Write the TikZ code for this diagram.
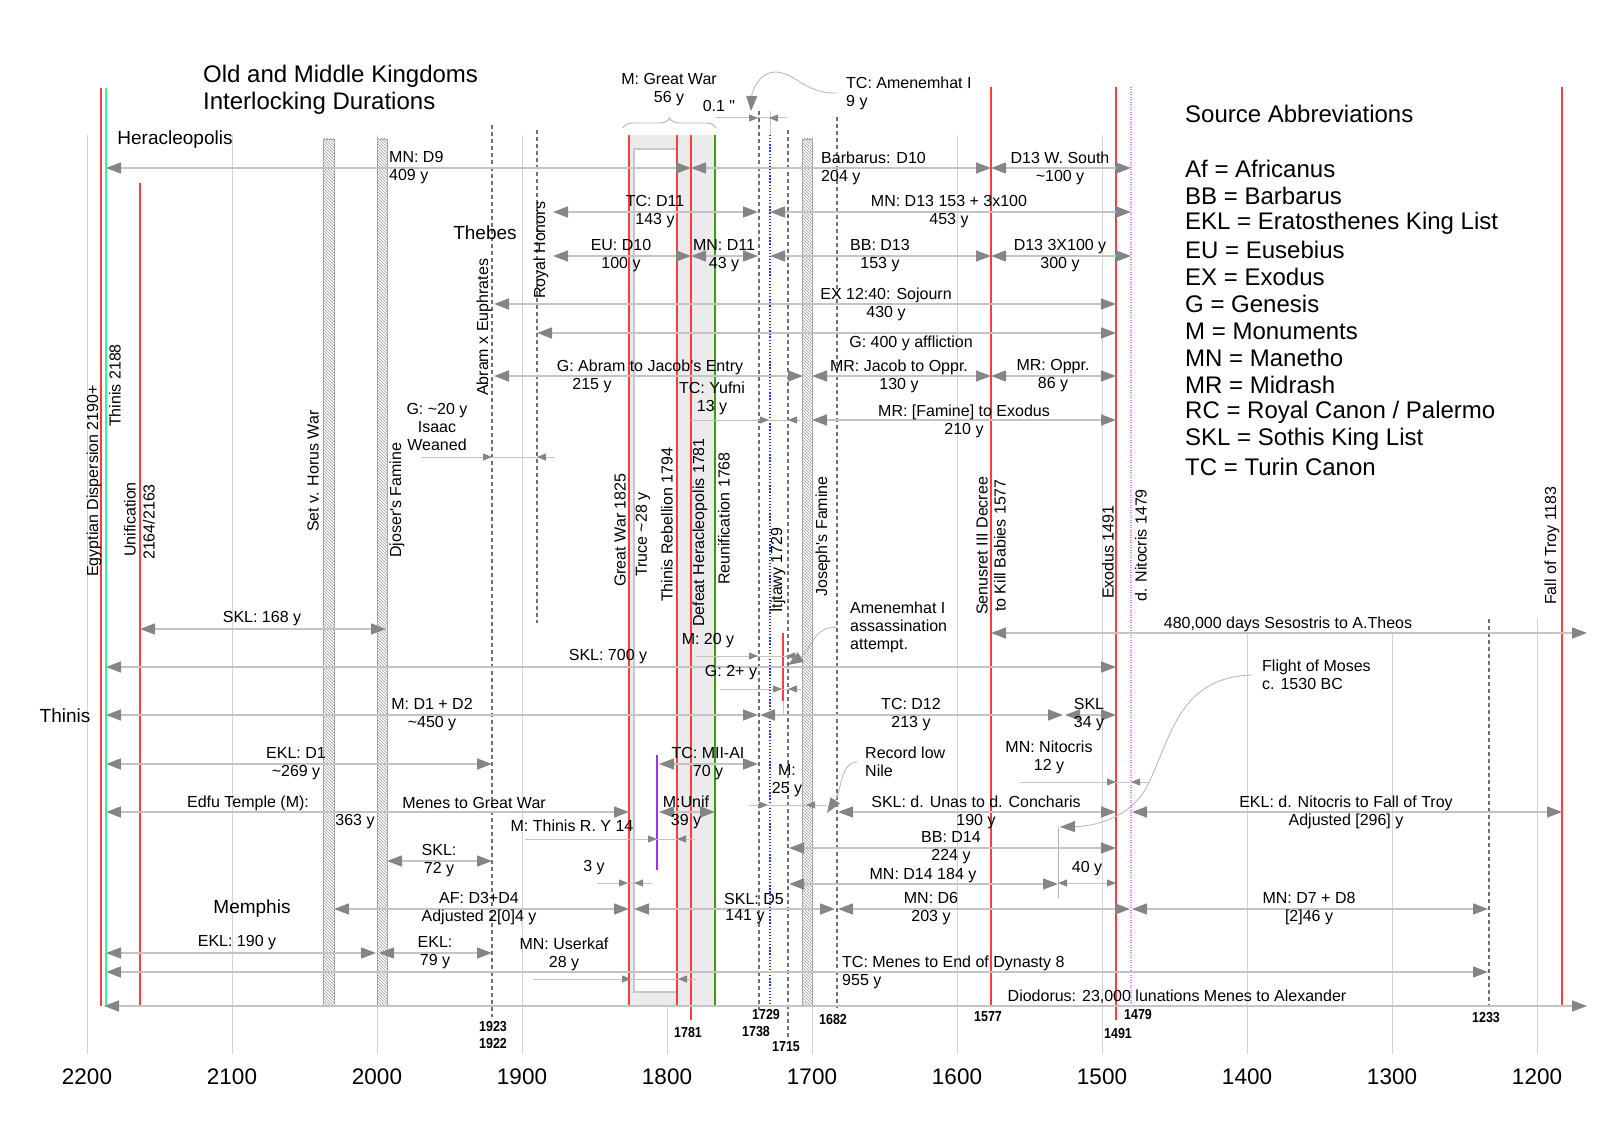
\documentclass[tikz,border=0pt]{standalone}
\usepackage{fontspec}
\setmainfont{Liberation Sans}
\newfontfamily\lsans{Liberation Sans}
\newfontfamily\lsnarrow{Liberation Sans}[FakeStretch=0.86]
\usetikzlibrary{arrows.meta,patterns,decorations.pathreplacing}
\definecolor{redl}{HTML}{FF3B3B}
\definecolor{mint}{HTML}{33F59A}
\definecolor{dgreen}{HTML}{3A9A10}
\definecolor{gridc}{HTML}{D2D2D2}
\definecolor{linec}{HTML}{C4C4C4}
\definecolor{headc}{HTML}{858585}
\definecolor{dashc}{HTML}{707070}
\definecolor{boxc}{HTML}{EBEBEB}
\definecolor{purp}{HTML}{9933FF}
\definecolor{magd}{HTML}{FF77FF}
\definecolor{bluedot}{HTML}{2233FF}
\newcommand{\sdim}[5]{%
  \draw[thinl] (#2,#1) -- (#3,#1);
  \draw[shead] ({#4-9},#1) -- (#4,#1);
  \draw[shead] ({#5+9},#1) -- (#5,#1);}
\tikzset{
  gridl/.style={draw=gridc, line width=1pt},
  redv/.style={draw=redl, line width=2pt},
  mintv/.style={draw=mint, line width=2pt},
  dgreenv/.style={draw=dgreen, line width=1.6pt},
  bluedotv/.style={draw=bluedot, line width=1.3pt, dash pattern=on 1.3pt off 1.8pt},
  magv/.style={draw=magd, line width=1.2pt, dash pattern=on 1pt off 1.5pt},
  purplev/.style={draw=purp, line width=2pt},
  dashv/.style={draw=dashc, line width=1.3pt, dash pattern=on 4pt off 3pt},
  hatch/.style={preaction={fill=white}, pattern=north west lines, pattern color=gray!80, draw=gray!70, line width=0.8pt},
  dur/.style={draw=linec, line width=1.6pt, {Triangle[length=15pt,width=11pt,color=headc]}-{Triangle[length=15pt,width=11pt,color=headc]}},
  thinl/.style={draw=linec, line width=1pt},
  shead/.style={draw=linec, line width=1pt, -{Triangle[length=9pt,width=7pt,color=headc]}},
  sdouble/.style={draw=linec, line width=1pt, {Triangle[length=9pt,width=7pt,color=headc]}-{Triangle[length=9pt,width=7pt,color=headc]}},
  conn/.style={draw=gray!55, line width=0.9pt, -{Triangle[length=15pt,width=11pt,color=headc]}},
  lbl/.style={font=\lsans\fontsize{16}{18}\selectfont, inner sep=0pt, align=center},
  lbll/.style={lbl, align=left, anchor=west},
  rot/.style={font=\lsans\fontsize{16}{18}\selectfont, inner sep=0pt, rotate=90, anchor=west},
  bigt/.style={font=\lsans\fontsize{24}{28}\selectfont, inner sep=0pt, anchor=west},
  city/.style={font=\lsans\fontsize{19}{22}\selectfont, inner sep=0pt},
  yearl/.style={font=\lsans\fontsize{22.5}{26}\selectfont, inner sep=0pt},
  datel/.style={font=\lsnarrow\bfseries\fontsize{14.5}{16}\selectfont, inner sep=0pt},
}
\begin{document}
\begin{tikzpicture}[x=1pt,y=-1pt]
\useasboundingbox (0,0) rectangle (1600,1131);
% grid
\foreach \gx in {87,232,377,522,667,812,957,1102} \draw[gridl] (\gx,135) -- (\gx,1054);
\draw[gridl] (1247,633) -- (1247,1054);
\draw[gridl] (1392,633) -- (1392,1054);
\draw[gridl] (1537,618) -- (1537,1054);
% gray box
\fill[boxc] (629,135) rectangle (715,1006);
\filldraw[fill=white, draw=gray!45, line width=1.2pt] (634,149) rectangle (677,992);
% hatched bars
\filldraw[hatch] (323,139) rectangle (334,1006);
\filldraw[hatch] (377,139) rectangle (387,1006);
\filldraw[hatch] (802,139) rectangle (812,1006);
% vertical lines
\draw[redv] (101,88) -- (101,1006);
\draw[mintv] (106,88) -- (106,1006);
\draw[redv] (140,183) -- (140,1006);
\draw[dashv] (492,125) -- (492,1017);
\draw[dashv] (537,130) -- (537,623);
\draw[redv] (629,135) -- (629,1006);
\draw[redv] (677,135) -- (677,1006);
\draw[redv] (691,135) -- (691,1020);
\draw[dgreenv] (715,135) -- (715,1006);
\draw[dashv] (759,111) -- (759,1010);
\draw[thinl] (770,111) -- (770,135);
\draw[bluedotv] (770,135) -- (770,1006);
\draw[dashv] (788,130) -- (788,1038);
\draw[redv] (783,633) -- (783,701);
\draw[thinl] (783,701) -- (783,715);
\draw[dashv] (837,117) -- (837,1008);
\draw[redv] (991,87) -- (991,1006);
\draw[redv] (1116,87) -- (1116,1020);
\draw[magv] (1131,87) -- (1131,1006);
\draw[dashv] (1489,619) -- (1489,1007);
\draw[redv] (1562,87) -- (1562,1006);
\draw[purplev] (657,755) -- (657,870);
\draw[draw=gray!60, line width=1pt] (1058,827) -- (1058,898);
% duration arrows
\draw[dur] (106,168) -- (691,168);
\draw[dur] (691,168) -- (991,168);
\draw[dur] (991,168) -- (1131,168);
\draw[dur] (553,212) -- (758,212);
\draw[dur] (770,212) -- (1131,212);
\draw[dur] (553,256) -- (691,256);
\draw[dur] (691,256) -- (758,256);
\draw[dur] (770,256) -- (991,256);
\draw[dur] (991,256) -- (1131,256);
\draw[dur] (494,304) -- (1116,304);
\draw[dur] (537,333) -- (1116,333);
\draw[dur] (494,376) -- (803,376);
\draw[dur] (812,376) -- (991,376);
\draw[dur] (991,376) -- (1116,376);
\draw[dur] (812,420) -- (1116,420);
\draw[dur] (140,629) -- (386,629);
\draw[dur] (991,633) -- (1587,633);
\draw[dur] (106,667) -- (1116,667);
\draw[dur] (106,715) -- (758,715);
\draw[dur] (760,715) -- (1063,715);
\draw[dur] (1065,715) -- (1116,715);
\draw[dur] (106,764) -- (492,764);
\draw[dur] (659,764) -- (758,764);
\draw[dur] (106,812) -- (629,812);
\draw[dur] (659,812) -- (715,812);
\draw[dur] (838,812) -- (1116,812);
\draw[dur] (1132,812) -- (1562,812);
\draw[dur] (789,848) -- (1116,848);
\draw[dur] (387,861) -- (492,861);
\draw[dur] (789,884) -- (1058,884);
\draw[dur] (334,909) -- (629,909);
\draw[dur] (634,909) -- (835,909);
\draw[dur] (838,909) -- (1130,909);
\draw[dur] (1132,909) -- (1488,909);
\draw[dur] (106,953) -- (376,953);
\draw[dur] (379,953) -- (492,953);
\draw[dur] (106,972) -- (1488,972);
\draw[dur] (104,1006) -- (1587,1006);
% small dimension markers
\sdim{118}{716}{787}{758}{769}
\sdim{420}{691}{800}{769}{788}
\sdim{457}{421}{555}{492}{537}
\sdim{656}{696}{795}{758}{786}
\sdim{689}{720}{803}{782}{788}
\sdim{782}{1020}{1150}{1116}{1131}
\sdim{805}{749}{827}{768}{806}
\sdim{839}{525}{695}{657}{677}
\sdim{883}{597}{652}{628}{634}
\sdim{979}{533}{696}{631}{678}
\draw[sdouble] (1058,883) -- (1116,883);
% brace
\draw[decorate, decoration={brace, amplitude=10pt}, draw=gray!60, line width=0.9pt] (623,128) -- (716,128);
% titles
\node[bigt] (t1) at (203,76) {Old and Middle Kingdoms};
\node[bigt] (t2) at (203,103) {Interlocking Durations};
\node[bigt] (src) at (1185,114) {Source Abbreviations};
\node[bigt] (lg1) at (1185,169) {Af = Africanus};
\node[bigt] (lg2) at (1185,196) {BB = Barbarus};
\node[bigt] (lg3) at (1185,223) {EKL = Eratosthenes King List};
\node[bigt] (lg4) at (1185,250) {EU = Eusebius};
\node[bigt] (lg5) at (1185,277) {EX = Exodus};
\node[bigt] (lg6) at (1185,304) {G = Genesis};
\node[bigt] (lg7) at (1185,331) {M = Monuments};
\node[bigt] (lg8) at (1185,358) {MN = Manetho};
\node[bigt] (lg9) at (1185,385) {MR = Midrash};
\node[bigt] (lg10) at (1185,412) {RC = Royal Canon / Palermo};
\node[bigt] (lg11) at (1185,439) {SKL = Sothis King List};
\node[bigt] (lg12) at (1185,467) {TC = Turin Canon};
% cities
\node[city] (heracl) at (175,140) {Heracleopolis};
\node[city] (thebes) at (485,233) {Thebes};
\node[city] (thinis) at (65,716) {Thinis};
\node[city] (memphis) at (252,909) {Memphis};
% rotated labels
\node[rot] (r1) at (94,577) {Egyptian Dispersion 2190+};
\node[rot] (r2) at (115,427) {Thinis 2188};
\node[rot] (r3) at (130,557) {Unification};
\node[rot] (r4) at (149,560) {2164/2163};
\node[rot] (r5) at (313,532) {Set v. Horus War};
\node[rot] (r6) at (397,558) {Djoser's Famine};
\node[rot] (r7) at (484,396) {Abram x Euphrates};
\node[rot] (r8) at (541,299) {Royal Honors};
\node[rot] (r9) at (620,587) {Great War 1825};
\node[rot] (r10) at (643,577) {Truce \textasciitilde28 y};
\node[rot] (r11) at (667,602) {Thinis Rebellion 1794};
\node[rot] (r12) at (700,627) {Defeat Heracleopolis 1781};
\node[rot] (r13) at (724,585) {Reunification 1768};
\node[rot] (r14) at (778,613) {Itjtawy 1729};
\node[rot] (r15) at (823,597) {Joseph's Famine};
\node[rot] (r16) at (982,615) {Senusret III Decree};
\node[rot] (r17) at (1000,612) {to Kill Babies 1577};
\node[rot] (r18) at (1108,599) {Exodus 1491};
\node[rot] (r19) at (1141,602) {d. Nitocris 1479};
\node[rot] (r20) at (1552,605) {Fall of Troy 1183};
% duration labels
\node[lbl] (mgw) at (669,90) {M: Great War\\56 y};
\node[lbl] (q01) at (719,106) {0.1 "};
\node[lbll] (tcamen) at (846,93) {TC: Amenemhat I\\9 y};
\node[lbll] (mnd9) at (389,168) {MN: D9\\409 y};
\node[lbll] (barb) at (821,168) {Barbarus: D10\\204 y};
\node[lbl] (d13ws) at (1060,168) {D13 W. South\\\textasciitilde100 y};
\node[lbl] (tcd11) at (655,212) {TC: D11\\143 y};
\node[lbl] (mnd13) at (949,212) {MN: D13 153 + 3x100\\453 y};
\node[lbl] (eud10) at (621,256) {EU: D10\\100 y};
\node[lbl] (mnd11) at (724,256) {MN: D11\\43 y};
\node[lbl] (bbd13) at (880,256) {BB: D13\\153 y};
\node[lbl] (d13x) at (1060,256) {D13 3X100 y\\300 y};
\node[lbl] (ex) at (886,304) {EX 12:40: Sojourn\\430 y};
\node[lbl] (g400) at (911,343) {G: 400 y affliction};
\node[lbl] (gabr) at (650,367) {G: Abram to Jacob's Entry};
\node[lbl] (g215) at (592,386) {215 y};
\node[lbl] (mrj) at (899,376) {MR: Jacob to Oppr.\\130 y};
\node[lbl] (mro) at (1053,376) {MR: Oppr.\\86 y};
\node[lbl] (yuf) at (712,398) {TC: Yufni\\13 y};
\node[lbl] (mrf) at (964,421) {MR: [Famine] to Exodus\\210 y};
\node[lbl] (g20) at (437,427) {G: \textasciitilde20 y\\Isaac\\Weaned};
\node[lbl] (skl168) at (262,619) {SKL: 168 y};
\node[lbl] (d480) at (1288,624) {480,000 days Sesostris to A.Theos};
\node[lbl] (m20) at (708,641) {M: 20 y};
\node[lbl] (skl700) at (608,657) {SKL: 700 y};
\node[lbl] (g2) at (731,673) {G: 2+ y};
\node[lbll] (amen) at (850,627) {Amenemhat I\\assassination\\attempt.};
\node[lbll] (flight) at (1262,675) {Flight of Moses\\c. 1530 BC};
\node[lbl] (md1) at (432,715) {M: D1 + D2\\\textasciitilde450 y};
\node[lbl] (tcd12) at (911,715) {TC: D12\\213 y};
\node[lbl] (skl34) at (1089,715) {SKL\\34 y};
\node[lbl] (ekld1) at (296,764) {EKL: D1\\\textasciitilde269 y};
\node[lbl] (tcm) at (708,764) {TC: MII-AI\\70 y};
\node[lbl] (mnnit) at (1049,757) {MN: Nitocris\\12 y};
\node[lbll] (rln) at (865,762) {Record low\\Nile};
\node[lbl] (m25) at (787,781) {M:\\25 y};
\node[lbl] (edfu) at (248,803) {Edfu Temple (M):};
\node[lbl] (e363) at (355,822) {363 y};
\node[lbl] (menes) at (474,803) {Menes to Great War};
\node[lbl] (munif) at (686,812) {M:Unif\\39 y};
\node[lbl] (sklu) at (976,812) {SKL: d. Unas to d. Concharis\\190 y};
\node[lbl] (eklnit) at (1346,812) {EKL: d. Nitocris to Fall of Troy\\Adjusted [296] y};
\node[lbl] (mthin) at (572,826) {M: Thinis R. Y 14};
\node[lbl] (bbd14) at (951,848) {BB: D14\\224 y};
\node[lbl] (skl72) at (439,861) {SKL:\\72 y};
\node[lbl] (mnd14) at (923,876) {MN: D14 184 y};
\node[lbl] (y40) at (1087,869) {40 y};
\node[lbl] (y3) at (594,868) {3 y};
\node[lbl] (af) at (479,909) {AF: D3+D4\\Adjusted 2[0]4 y};
\node[lbl] (skld5) at (754,899) {SKL: D5};
\node[lbl] (y141) at (745,917) {141 y};
\node[lbl] (mnd6) at (931,909) {MN: D6\\203 y};
\node[lbl] (mnd78) at (1309,909) {MN: D7 + D8\\{}[2]46 y};
\node[lbl] (ekl190) at (237,943) {EKL: 190 y};
\node[lbl] (ekl79) at (435,953) {EKL:\\79 y};
\node[lbl] (userk) at (564,954) {MN: Userkaf\\28 y};
\node[lbll] (tcmenes) at (842,972) {TC: Menes to End of Dynasty 8\\955 y};
\node[lbl] (diod) at (1177,997) {Diodorus: 23,000 lunations Menes to Alexander};
% connectors
\draw[conn] ([xshift=-9pt]tcamen.west) .. controls (805,94) and (795,72) .. (775,72) .. controls (760,72) and (752,90) .. (751,111);
\draw[conn] ([xshift=-13pt]amen.west) .. controls (812,627) and (812,650) .. (788,665);
\draw[conn] ([xshift=-8pt]rln.west) .. controls (840,763) and (842,790) .. (827,813);
\draw[conn] ([xshift=-10pt]flight.west) .. controls (1175,677) and (1170,745) .. (1145,790) .. controls (1130,815) and (1100,826) .. (1060,827);
% bottom date labels
\node[datel] (b1923) at (493,1027) {1923};
\node[datel] (b1922) at (493,1043) {1922};
\node[datel] (b1781) at (688,1032) {1781};
\node[datel] (b1729) at (766,1014) {1729};
\node[datel] (b1738) at (756,1032) {1738};
\node[datel] (b1715) at (786,1047) {1715};
\node[datel] (b1682) at (833,1019) {1682};
\node[datel] (b1577) at (988,1017) {1577};
\node[datel] (b1479) at (1138,1014) {1479};
\node[datel] (b1491) at (1118,1033) {1491};
\node[datel] (b1233) at (1486,1018) {1233};
% year axis
\node[yearl] (y2200) at (87,1077) {2200};
\node[yearl] (y2100) at (232,1077) {2100};
\node[yearl] (y2000) at (377,1077) {2000};
\node[yearl] (y1900) at (522,1077) {1900};
\node[yearl] (y1800) at (667,1077) {1800};
\node[yearl] (y1700) at (812,1077) {1700};
\node[yearl] (y1600) at (957,1077) {1600};
\node[yearl] (y1500) at (1102,1077) {1500};
\node[yearl] (y1400) at (1247,1077) {1400};
\node[yearl] (y1300) at (1392,1077) {1300};
\node[yearl] (y1200) at (1537,1077) {1200};
\end{tikzpicture}
\end{document}
